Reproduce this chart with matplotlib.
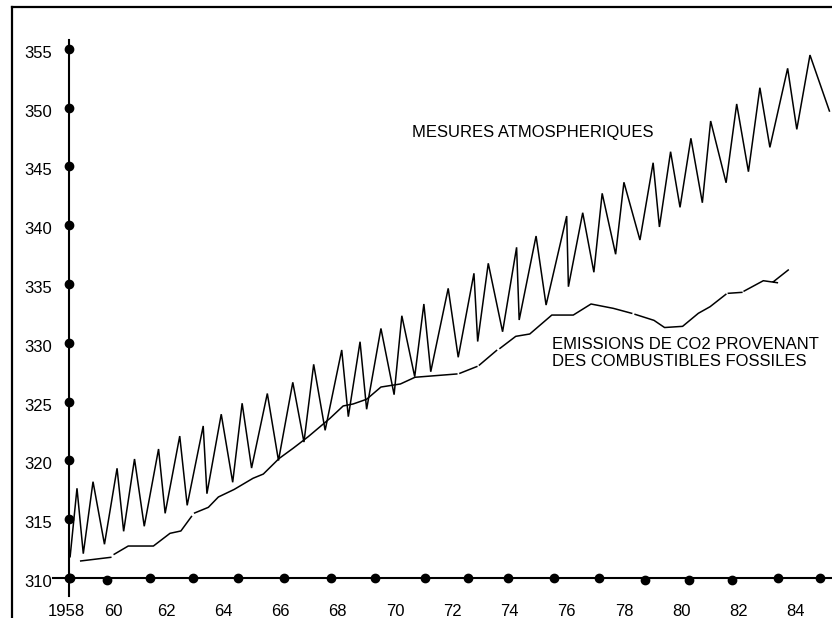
import matplotlib.pyplot as plt
import numpy as np
from matplotlib.lines import Line2D
from matplotlib.transforms import ScaledTranslation

plt.rcParams['font.family'] = ['Liberation Sans', 'DejaVu Sans']

# mesures atmospheriques (ppm), sommets de la courbe en dents de scie
atm_year = [1958.65, 1958.89, 1959.11, 1959.45, 1959.85, 1960.29, 1960.52, 1960.90,
            1961.24, 1961.74, 1961.97, 1962.48, 1962.74, 1963.30, 1963.43, 1963.93,
            1964.33, 1964.66, 1964.99, 1965.54, 1965.93, 1966.43, 1966.82, 1967.16,
            1967.56, 1968.14, 1968.37, 1968.78, 1969.01, 1969.51, 1969.97, 1970.24,
            1970.69, 1971.01, 1971.25, 1971.86, 1972.21, 1972.76, 1972.89, 1973.26,
            1973.76, 1974.25, 1974.34, 1974.93, 1975.28, 1976.00, 1976.06, 1976.56,
            1976.95, 1977.24, 1977.71, 1978.00, 1978.56, 1979.02, 1979.24, 1979.63,
            1979.96, 1980.34, 1980.74, 1981.03, 1981.57, 1981.94, 1982.35, 1982.75,
            1983.10, 1983.72, 1984.04, 1984.50, 1985.18]
atm_ppm = [311.81, 317.63, 312.07, 318.19, 312.87, 319.33, 313.97, 320.12,
           314.40, 320.97, 315.50, 322.07, 316.18, 322.93, 317.17, 323.93,
           318.14, 324.86, 319.35, 325.69, 319.99, 326.64, 321.56, 328.17,
           322.56, 329.39, 323.72, 330.09, 324.35, 331.22, 325.59, 332.30,
           327.12, 333.30, 327.54, 334.63, 328.77, 335.91, 330.11, 336.76,
           330.94, 338.12, 331.94, 339.08, 333.21, 340.78, 334.77, 341.06,
           336.00, 342.71, 337.53, 343.65, 338.74, 345.31, 339.85, 346.25,
           341.52, 347.39, 341.91, 348.86, 343.61, 350.31, 344.55, 351.69,
           346.62, 353.34, 348.15, 354.47, 349.71]

# emissions de CO2 des combustibles fossiles (NaN = interruption du trait)
emi_year = [1959.02, 1960.07, np.nan,
            1960.19, 1960.68, 1961.56, 1962.14, 1962.52, 1962.89, np.nan,
            1963.00, 1963.48, 1963.83, 1964.38, 1965.04, 1965.40, 1965.95, 1966.44,
            1966.97, 1967.73, 1968.19, 1968.54, 1969.01, 1969.51, 1970.19, 1970.70,
            1972.16, np.nan,
            1972.27, 1972.86, np.nan,
            1972.95, 1973.55, np.nan,
            1973.67, 1974.22, 1974.71, 1975.48, 1976.23, 1976.85, 1977.63, 1978.27, np.nan,
            1978.39, 1979.05, 1979.42, 1980.05, 1980.60, 1981.01, 1981.56, np.nan,
            1981.65, 1982.12, np.nan,
            1982.20, 1982.87, 1983.36, np.nan,
            1983.23, 1983.74]
emi_ppm = [311.45, 311.76, np.nan,
           312.02, 312.72, 312.72, 313.80, 314.00, 315.23, np.nan,
           315.53, 316.01, 316.89, 317.53, 318.48, 318.84, 320.16, 321.03,
           322.02, 323.58, 324.63, 324.80, 325.20, 326.24, 326.50, 327.07,
           327.35, np.nan,
           327.41, 327.98, np.nan,
           328.11, 329.35, np.nan,
           329.53, 330.55, 330.75, 332.36, 332.36, 333.30, 332.93, 332.51, np.nan,
           332.42, 331.91, 331.30, 331.40, 332.51, 333.07, 334.12, np.nan,
           334.21, 334.29, np.nan,
           334.40, 335.28, 335.11, np.nan,
           335.21, 336.19]

# points sur l'axe horizontal
dot_year = [1958.65, 1959.94, 1961.44, 1962.94, 1964.52, 1966.12, 1967.77, 1969.30,
            1971.05, 1972.55, 1973.95, 1975.56, 1977.13, 1978.74, 1980.27, 1981.78,
            1983.38, 1984.85]
dot_ppm = [310, 309.83, 310, 310, 310, 310, 310, 310,
           310, 310, 310, 310, 310, 309.83, 309.83, 309.83,
           310, 310]

y_ticks = [310, 315, 320, 325, 330, 335, 340, 345, 350, 355]
x_tick_pos = [1958.5, 1960.15, 1962, 1964, 1966, 1968, 1970, 1972, 1974, 1976,
              1978, 1980, 1982, 1984]
x_tick_labels = ['1958', '60', '62', '64', '66', '68', '70', '72', '74', '76',
                 '78', '80', '82', '84']

y_axis_year = 1958.61

fig = plt.figure(figsize=(8.32, 6.18), dpi=100)
ax = fig.add_axes([0, 0, 1, 1])
ax.set_xlim(1956.20, 1985.27)
ax.set_ylim(306.60, 359.15)

for s in ['top', 'right']:
    ax.spines[s].set_visible(False)
ax.spines['left'].set_position(('data', y_axis_year))
ax.spines['left'].set_bounds(308.47, 355.75)
ax.spines['bottom'].set_position(('data', 310))
ax.spines['bottom'].set_bounds(1958.05, 1985.27)
for s in ['left', 'bottom']:
    ax.spines[s].set_linewidth(1.5)
    ax.spines[s].set_color('black')

ax.set_yticks(y_ticks, [str(v) for v in y_ticks])
ax.set_xticks(x_tick_pos, x_tick_labels)
ax.tick_params(axis='both', length=0, labelsize=12, colors='black')
ax.tick_params(axis='y', pad=12)
ax.tick_params(axis='x', pad=19)
offset = ScaledTranslation(0, -3 / 100, fig.dpi_scale_trans)
for lab in ax.get_yticklabels():
    lab.set_transform(lab.get_transform() + offset)

ax.plot(atm_year, atm_ppm, color='black', lw=1.1, solid_joinstyle='miter')
ax.plot(emi_year, emi_ppm, color='black', lw=1.1)

ax.plot([y_axis_year] * len(y_ticks), y_ticks, 'o', color='black', ms=6, clip_on=False)
ax.plot(dot_year, dot_ppm, 'o', color='black', ms=6, clip_on=False)

ax.text(1970.60, 347.87, 'MESURES ATMOSPHERIQUES', fontsize=12, ha='left', va='center')
ax.text(1975.50, 329.12, 'EMISSIONS DE CO2 PROVENANT\nDES COMBUSTIBLES FOSSILES',
        fontsize=12, ha='left', va='center', linespacing=1.22)

# cadre (haut et gauche)
top_y = 1 - 6.5 / 618
left_x = 12 / 832
fig.add_artist(Line2D([left_x, 1], [top_y, top_y], color='black', lw=1.6,
                      transform=fig.transFigure))
fig.add_artist(Line2D([left_x, left_x], [0, top_y], color='black', lw=1.6,
                      transform=fig.transFigure))

fig.savefig('out.png', dpi=100)
